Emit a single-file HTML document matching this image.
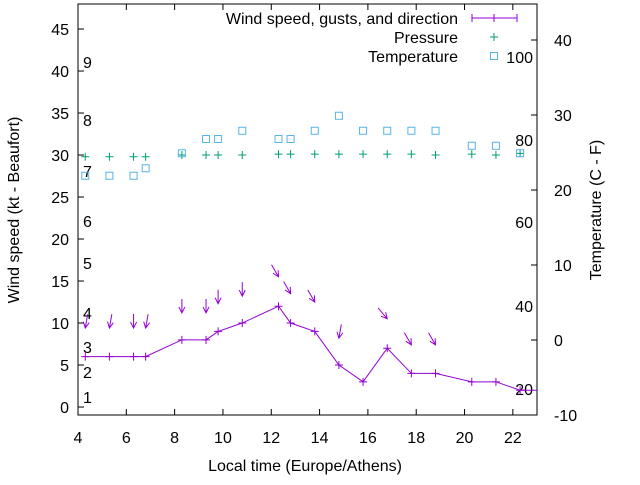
<!DOCTYPE html>
<html><head><meta charset="utf-8"><style>
body{margin:0;background:#fff}
svg{font-family:"Liberation Sans",sans-serif;font-size:16px}
</style></head><body>
<svg id="c" width="640" height="480" xmlns="http://www.w3.org/2000/svg"></svg>
<script>
const times=[4.3,5.3,6.3,6.8,8.3,9.3,9.8,10.8,12.3,12.8,13.8,14.8,15.8,16.8,17.8,18.8,20.3,21.3,22.3];
const windSpeed=[6,6,6,6,8,8,9,10,12,10,9,5,3,7,4,4,3,3,2];
const gustTimes=[4.3,5.3,6.3,6.8,8.3,9.3,9.8,10.8,12.3,12.8,13.8,14.8,16.8,17.8,18.8];
const gusts=[9.4,9.4,9.4,9.4,11.2,11.2,12.3,13.2,15.5,13.5,12.5,8.2,10.5,7.4,7.4];
const gustDir=[10,10,0,10,0,0,0,0,330,330,330,10,320,330,330];
const pressure=[29.8,29.8,29.8,29.8,30.0,30.0,30.0,30.0,30.1,30.1,30.1,30.1,30.1,30.1,30.1,30.0,30.1,30.0,30.2];
const temperature=[21.9,21.9,21.9,22.9,24.9,26.8,26.8,27.9,26.8,26.8,27.9,29.9,27.9,27.9,27.9,27.9,25.9,25.9,24.9];
const xTicks=[4,6,8,10,12,14,16,18,20,22];
const yTicks=[0,5,10,15,20,25,30,35,40,45];
const y2Ticks=[-10,0,10,20,30,40];
const beaufort=[[1,397],[2,372],[3,347],[4,313],[5,263],[6,221],[7,171],[8,120],[9,62]];
const fahr=[[20,389],[40,306],[60,222],[80,140],[100,57]];
const L=78,R=537,T=4,B=415;
const X=v=>L+(v-4)*(R-L)/19;
const Y=v=>B-(v+0.95)*8.4;
const Y2=v=>340-v*7.5;
const svg=document.getElementById('c');
function el(t,a,txt){const e=document.createElementNS('http://www.w3.org/2000/svg',t);for(const k in a)e.setAttribute(k,a[k]);if(txt!=null)e.textContent=txt;svg.appendChild(e);return e;}
const P='#9400d3',G='#009e73',Bl='#56b4e9';
let e;
e=el('rect',{x:L,y:T,width:R-L,height:B-T,fill:'none',stroke:'#000','stroke-width':1});


xTicks.forEach(v=>{const x=X(v);
el('line',{x1:x,y1:B,x2:x,y2:B-6,stroke:'#000'});el('line',{x1:x,y1:T,x2:x,y2:T+6,stroke:'#000'});
e=el('text',{x:x,y:B+28,'text-anchor':'middle'},v);

});
yTicks.forEach(v=>{const y=Y(v);el('line',{x1:L,y1:y,x2:L+6,y2:y,stroke:'#000'});
e=el('text',{x:L-9,y:y+6,'text-anchor':'end'},v);

});
y2Ticks.forEach(v=>{const y=Y2(v);el('line',{x1:R,y1:y,x2:R-6,y2:y,stroke:'#000'});
e=el('text',{x:R+17,y:y+6,'text-anchor':'start'},v);

});
beaufort.forEach(([v,y])=>{e=el('text',{x:83,y:y+6},v);

});
fahr.forEach(([v,y])=>{e=el('text',{x:533,y:y+6,'text-anchor':'end'},v);

});
e=el('text',{x:305,y:471,'text-anchor':'middle'},'Local time (Europe/Athens)');


e=el('text',{x:0,y:0,'text-anchor':'middle',transform:'translate(19,210) rotate(-90)'},'Wind speed (kt - Beaufort)');


e=el('text',{x:0,y:0,'text-anchor':'middle',transform:'translate(601,210) rotate(-90)'},'Temperature (C - F)');


let pts=times.map((t,i)=>X(t)+','+Y(windSpeed[i]));pts.push(R+','+Y(windSpeed[windSpeed.length-1]));
e=el('polyline',{points:pts.join(' '),fill:'none',stroke:P,'stroke-width':1});


times.forEach((t,i)=>{const x=X(t),y=Y(windSpeed[i]);
e=el('path',{d:`M${x-4},${y}h8M${x},${y-4}v8`,stroke:P});

});
gustTimes.forEach((t,i)=>{const hx=X(t),hy=Y(gusts[i]);const r=gustDir[i]*Math.PI/180;
const dx=-Math.sin(r),dy=Math.cos(r);const tx=hx-dx*14,ty=hy-dy*14;
const ax=hx-dx*6,ay=hy-dy*6,px=-dy*3,py=dx*3;
e=el('path',{d:`M${tx},${ty}L${hx},${hy}M${ax+px},${ay+py}L${hx},${hy}L${ax-px},${ay-py}`,stroke:P,fill:'none'});

});
times.forEach((t,i)=>{const x=X(t),y=Y(pressure[i]);
e=el('path',{d:`M${x-4},${y}h8M${x},${y-4}v8`,stroke:G});

});
times.forEach((t,i)=>{const x=X(t),y=Y2(temperature[i]);
e=el('rect',{x:x-3.5,y:y-3.5,width:7,height:7,fill:'none',stroke:Bl});

});
e=el('text',{x:458,y:24,'text-anchor':'end'},'Wind speed, gusts, and direction');


el('path',{d:'M472,18h45M472,14v8M494,14v8M517,14v8',stroke:P});
e=el('text',{x:458,y:43,'text-anchor':'end'},'Pressure');


el('path',{d:'M490,37h8M494,33v8',stroke:G});
e=el('text',{x:458,y:62,'text-anchor':'end'},'Temperature');


el('rect',{x:490.5,y:52.5,width:7,height:7,fill:'none',stroke:Bl});
</script>
</body></html>
